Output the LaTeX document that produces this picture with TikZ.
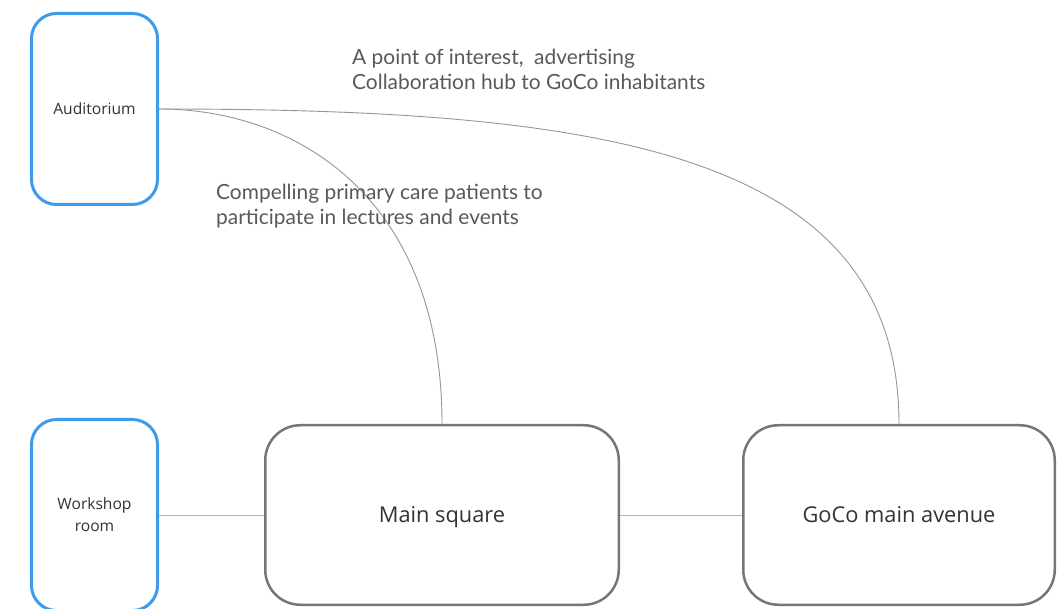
\documentclass[tikz,border=0pt]{standalone}
\usepackage{fontspec}
\setmainfont{Open Sans}
\newfontfamily\latofont{Lato}
\usetikzlibrary{positioning}
\definecolor{roomblue}{RGB}{61,155,233}
\definecolor{zonegray}{RGB}{118,118,118}
\definecolor{linkgray}{RGB}{150,150,150}
\definecolor{notegray}{RGB}{89,89,89}
\definecolor{textdark}{RGB}{51,51,51}

\begin{document}
\begin{tikzpicture}[x=1pt, y=-1pt, node distance=0pt,
  room/.style={rectangle, rounded corners=25pt, draw=roomblue, line width=3pt, minimum width=126pt, minimum height=191pt, align=center, text=textdark, font=\fontsize{15.6}{22}\selectfont},
  zone/.style={rectangle, rounded corners=35pt, draw=zonegray, line width=2.5pt, minimum height=179.5pt, text depth=0pt, align=center, text=textdark, font=\fontsize{21.8}{26}\selectfont},
  note/.style={anchor=north west, inner sep=0pt, align=left, text=notegray, font=\latofont\fontsize{20.9}{25}\selectfont},
  link/.style={draw=linkgray, line width=0.9pt},
  flat/.style={draw=linkgray!70, line width=0.9pt}
]
\clip (0,0) rectangle (1061,609);
\fill[white] (0,0) rectangle (1061,609);
% rooms on the left
\node[room] (aud) at (94.5,109) {Auditorium};
\node[room, below=212pt of aud] (shop) {Workshop\\room};
% main zones
\node[zone, minimum width=353.5pt, right=105pt of shop] (square) {Main square};
\node[zone, minimum width=311.5pt, right=122pt of square] (avenue) {GoCo main avenue};
% links
\draw[flat] (shop) -- (square);
\draw[flat] (square) -- (avenue);
\draw[link] (aud.east) .. controls +(140,0) and +(0,-224) .. (square.north);
\draw[link] (aud.east) .. controls +(440,0) and +(0,-274) .. (avenue.north);
% notes
\node[note] (poi) at (352,49) {A point of interest,~ advertising\\Collaboration hub to GoCo inhabitants};
\node[note] (lect) at (216,184) {Compelling primary care patients to\\participate in lectures and events};
\end{tikzpicture}
\end{document}
